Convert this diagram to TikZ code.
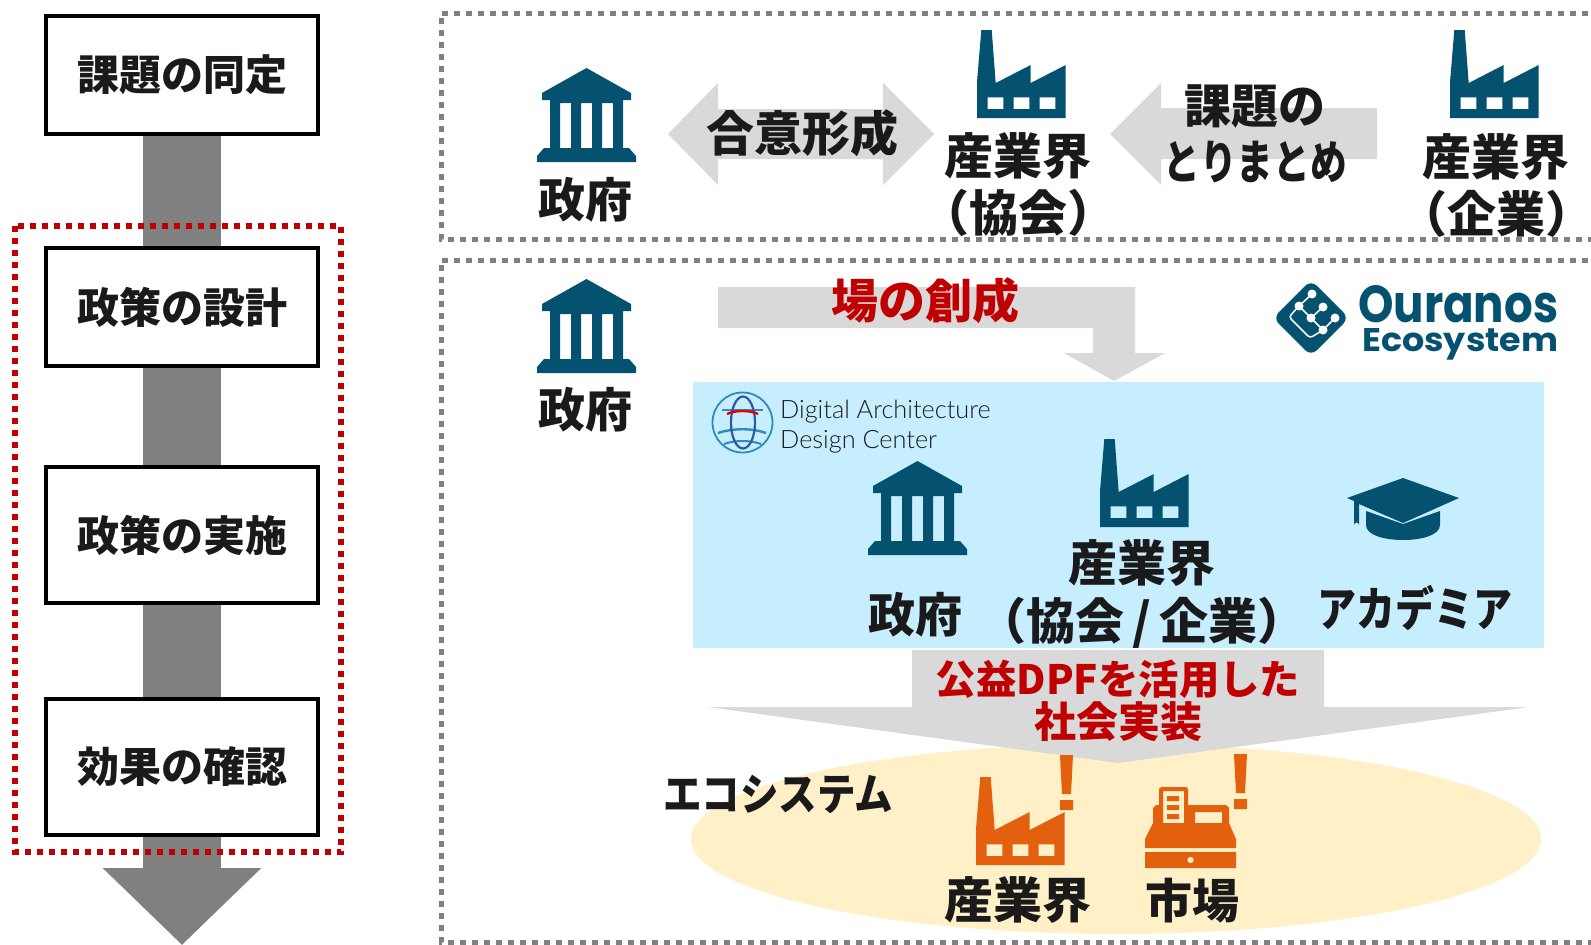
\documentclass[tikz,border=0pt]{standalone}
\usepackage{fontspec}
\setmainfont{Noto Sans CJK JP}
\newfontfamily\logofont{Poppins}
\newfontfamily\dadcfont{Lato Light}
\usetikzlibrary{arrows.meta}
\definecolor{icondark}{HTML}{04526F}
\definecolor{iconorange}{HTML}{E3600F}
\definecolor{arrowlight}{HTML}{D9D9D9}
\definecolor{panelblue}{HTML}{C7EEFF}
\definecolor{panelcream}{HTML}{FFF0C8}
\definecolor{textdark}{HTML}{1A1A1A}
\definecolor{textred}{HTML}{C00000}
\definecolor{globeblue}{HTML}{2E8BC0}
\definecolor{globedark}{HTML}{2C5AA0}
\tikzset{
  lbl/.style={inner sep=0pt,outer sep=0pt,text=textdark,text height=44pt,text depth=9pt,
    font=\fontsize{47}{47}\selectfont\bfseries},
  lblwide/.style={lbl,font=\fontsize{49}{49}\selectfont\bfseries},
  lblred/.style={lbl,text=textred},
  flowbox/.style={draw=black,line width=4pt,fill=white,minimum width=272pt,inner sep=0pt,outer sep=2pt,
    text=textdark,font=\fontsize{42}{42}\selectfont\bfseries},
  flowbar/.style={draw=black!50,line width=78pt},
  panelline/.style={draw=black!50,line width=5pt,dash pattern=on 6pt off 6pt},
  govicon/.pic={
    \fill[icondark,even odd rule,pic actions] (49.5,0) -- (94,25) -- (94,32) -- (86,32) -- (86,80) -- (92,80) -- (99,88)
      -- (99,94) -- (0,94) -- (0,88) -- (7,80) -- (13,80) -- (13,32) -- (5,32) -- (5,25) -- cycle
      (23,35) rectangle (34,80) (44,35) rectangle (55,80) (65,35) rectangle (76,80);
  },
  factoryicon/.pic={
    \fill[even odd rule,pic actions] (4.3,0) -- (14.7,0) -- (18.7,53) -- (53.7,35) -- (53.7,53) -- (88.7,35) -- (88.7,88)
      -- (0,88) -- (0,52) -- cycle
      (10.7,67.3) rectangle (26.3,79) (36.7,67.3) rectangle (52.3,79) (62.7,67.3) rectangle (78.3,79);
  },
  capicon/.pic={
    \fill[icondark] (56,0) -- (112,20) -- (56,45) -- (12,26) -- (12,47) arc (0:180:2.5 and -2.5) -- (7,23) -- (0,20) -- cycle;
    \fill[icondark] (19,33) -- (56,46) -- (93,33) -- (93,47) .. controls (93,57) and (75,62) .. (56,62)
      .. controls (37,62) and (19,57) .. (19,47) -- cycle;
  },
  registericon/.pic={
    \fill[iconorange,even odd rule] (16,0) -- (41,0) -- (43,2) -- (43,18) -- (81,18) -- (84,21) -- (84,36) -- (91,52) -- (91,61)
      -- (0,61) -- (0,52) -- (8,36) -- (8,21) -- (11,18) -- (14,18) -- (14,2) -- cycle
      (18,4) rectangle (39,36) (50,25) rectangle (77,36);
    \fill[iconorange] (22,9) rectangle (34,14) (22,18) rectangle (34,23) (22,27) rectangle (34,32);
    \fill[iconorange,even odd rule] (0,65) rectangle (91,81) (45.5,73) circle (3.3);
  },
  bangicon/.pic={
    \fill[iconorange] (0,0) -- (13,0) -- (11,39) -- (2,39) -- cycle (0,45) rectangle (13,55);
  }
}
\begin{document}
\begin{tikzpicture}[x=1pt,y=-1pt,line cap=butt,line join=miter]
        \clip (0,0) rectangle (1591,945);
        % left column
        \node[flowbox,minimum height=118pt] (task1) at (182,75) {課題の同定};
        \node[flowbox,minimum height=118pt] (task2) at (182,307) {政策の設計};
        \node[flowbox,minimum height=136pt] (task3) at (182,535) {政策の実施};
        \node[flowbox,minimum height=136pt] (task4) at (182,767) {効果の確認};
        \coordinate (taskend) at (182,945);
        \draw[flowbar] (task1) -- (task2);
        \draw[flowbar] (task2) -- (task3);
        \draw[flowbar] (task3) -- (task4);
        \draw[flowbar,-{Triangle[length=77pt,width=154pt]}] (task4) -- (taskend);
        \draw[textred,line width=6pt,dash pattern=on 6pt off 6pt] (14.5,226) rectangle (341,852);
        % dashed panels
        \draw[panelline] (1600,13) -- (441,13) -- (441,239) -- (1600,239);
        \draw[panelline] (1600,260) -- (441,260) -- (441,942) -- (1600,942);
        % top panel
        \fill[arrowlight] (668,134) -- (718,83) -- (718,109) -- (883,109) -- (883,83) -- (934,134) -- (883,185) -- (883,159) -- (718,159) -- (718,185) -- cycle;
        \fill[arrowlight] (1110,134) -- (1161,83) -- (1161,108) -- (1377,108) -- (1377,159) -- (1161,159) -- (1161,185) -- cycle;
        \pic at (537,68) {govicon};
        \pic[icondark] at (977,30) {factoryicon};
        \pic[icondark] at (1450,30) {factoryicon};
        \node[lbl] (gov1) at (585,200) {政府};
        \node[lbl,font=\fontsize{48}{48}\selectfont\bfseries] (agree) at (802,134) {合意形成};
        \node[lblwide] (ind1) at (1018,157) {産業界};
        \node[lblwide] (ind1sub) at (1018,214) {（協会）};
        \node[lbl] (issue1) at (1255,106) {課題の};
        \node[lbl] (issue2) at (1255,162) {\scalebox{.78}[1]{とりまとめ}};
        \node[lblwide] (ind2) at (1496,158) {産業界};
        \node[lblwide] (ind2sub) at (1496,215) {（企業）};
        % lower panel
        \pic at (537,279) {govicon};
        \node[lbl] (gov2) at (585,410) {政府};
        \fill[arrowlight] (718,287) -- (1135,287) -- (1135,353) -- (1165,353) -- (1114,381) -- (1064,353) -- (1093,353) -- (1093,328) -- (718,328) -- cycle;
        \node[lblred,font=\fontsize{47}{47}\selectfont\bfseries] (place) at (925,301) {場の創成};
        % logo
        \fill[icondark,rounded corners=8pt] (1311,280) -- (1349,318) -- (1311,356) -- (1273,318) -- cycle;
        \draw[white,line width=1.5pt,rounded corners=3pt] (1312,294) -- (1299,306) -- (1289,317) -- (1310,338) -- (1323,330) -- (1335,318);
        \draw[white,line width=1.5pt] (1299,306) -- (1311,318) -- (1323,307) (1311,318) -- (1323,330);
        \foreach \px/\py in {1312/294,1299/306,1323/307,1311/318,1335/318,1323/330}
          \fill[white] (\px,\py) circle (4.5);
        \node[inner sep=0pt,text=icondark,anchor=base west] (ouranos) at (1358,322) {\resizebox{200pt}{37pt}{\logofont\bfseries Ouranos}};
        \node[inner sep=0pt,text=icondark,anchor=base west] (ecosystem) at (1362,351) {\resizebox{196pt}{23pt}{\logofont\bfseries Ecosystem}};
        % blue panel
        \fill[panelblue] (693,382) rectangle (1544,648);
        \draw[globeblue,line width=1.8pt] (742.5,422.5) circle (30);
        \draw[globeblue,line width=2.4pt] (718,433) .. controls (733,428) and (752,428) .. (766,433);
        \draw[globeblue,line width=2pt] (722,410) -- (763,410);
        \draw[globeblue,line width=2pt] (724,444) .. controls (735,440) and (750,440) .. (761,444);
        \draw[globedark,line width=2.2pt] (743,422.5) ellipse (12 and 26);
        \draw[red!90!black,line width=2.4pt] (727,414) .. controls (735,410) and (750,410) .. (758,414);
        \node[inner sep=0pt,anchor=base west,text=textdark,font=\dadcfont\fontsize{25.3}{25.3}\selectfont] (dadc1) at (780,418) {Digital Architecture};
        \node[inner sep=0pt,anchor=base west,text=textdark,font=\dadcfont\fontsize{25.3}{25.3}\selectfont] (dadc2) at (780,448) {Design Center};
        \pic at (868,461) {govicon};
        \pic[icondark] at (1100,439) {factoryicon};
        \pic at (1347,478) {capicon};
        \node[lbl] (gov3) at (915,615) {政府};
        \node[lblwide] (ind3) at (1142,564) {産業界};
        \node[lblwide] (ind3sub) at (1142,622) {（協会\,/\,企業）};
        \node[lbl] (academia) at (1415,609) {\scalebox{.83}[1]{アカデミア}};
        % ecosystem
        \fill[panelcream] (1116,839) ellipse (425 and 95);
        \fill[arrowlight] (912,650) -- (1324,650) -- (1324,707) -- (1529,707) -- (1118,763) -- (708,707) -- (912,707) -- cycle;
        \node[lblred,font=\fontsize{40.4}{40.4}\selectfont\bfseries] (dpf) at (1118,677) {公益DPFを活用した};
        \node[lblred,font=\fontsize{42}{42}\selectfont\bfseries] (impl) at (1118,720) {社会実装};
        \node[lbl,font=\fontsize{44}{44}\selectfont\bfseries] (eco) at (778,793) {\scalebox{.875}[1]{エコシステム}};
        \pic[iconorange] at (976,777) {factoryicon};
        \pic at (1145,787) {registericon};
        \pic at (1060,755) {bangicon};
        \pic at (1234,754) {bangicon};
        \node[lblwide] (ind4) at (1018,901) {産業界};
        \node[lbl] (market) at (1192,901) {市場};
    \end{tikzpicture}
\end{document}
